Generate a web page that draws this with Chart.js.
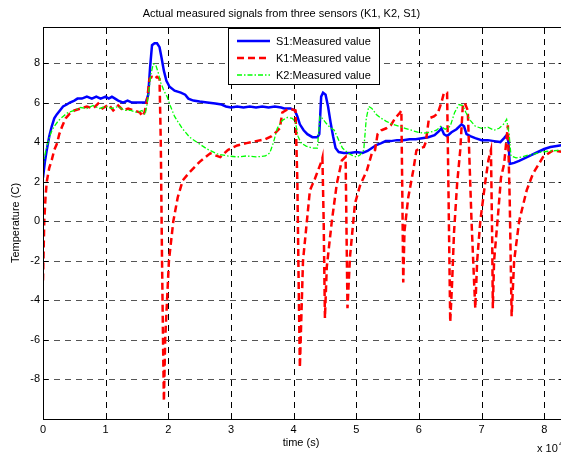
<!DOCTYPE html>
<html>
<head>
<meta charset="utf-8">
<script src="https://cdn.jsdelivr.net/npm/chart.js@4/dist/chart.umd.min.js"></script>
<style>
html,body{margin:0;padding:0;overflow:hidden;background:#fff;width:561px;height:454px;}
#wrap{position:absolute;left:0;top:0;width:580px;height:454px;}
</style>
</head>
<body>
<div id="wrap"><canvas id="c" width="580" height="454"></canvas></div>
<script>
// ---- data (time in units of 10^4 s, temperature in C) ----
const chartTitle = 'Actual measured signals from three sensors (K1, K2, S1)';
const xTitle = 'time (s)';
const yTitle = 'Temperature (C)';
const seriesNames = ['S1:Measured value', 'K1:Measured value', 'K2:Measured value'];
const xTicks = [0, 1, 2, 3, 4, 5, 6, 7, 8];
const yTicks = [-8, -6, -4, -2, 0, 2, 4, 6, 8];

const s1Time = [0.00,0.03,0.06,0.10,0.14,0.18,0.22,0.27,0.32,0.38,0.43,0.50,0.55,0.62,0.70,0.78,0.85,0.92,1.00,1.05,1.10,1.15,1.20,1.28,1.35,1.42,1.50,1.58,1.64,1.68,1.71,1.74,1.78,1.82,1.86,1.89,1.93,1.97,2.02,2.10,2.20,2.27,2.32,2.40,2.50,2.62,2.75,2.85,2.92,3.00,3.10,3.20,3.30,3.40,3.50,3.60,3.70,3.80,3.85,3.95,4.02,4.06,4.10,4.16,4.22,4.30,4.38,4.41,4.44,4.47,4.51,4.55,4.59,4.63,4.67,4.72,4.80,4.90,5.00,5.10,5.18,5.25,5.32,5.40,5.47,5.55,5.65,5.75,5.85,5.95,6.05,6.15,6.25,6.32,6.36,6.40,6.45,6.52,6.60,6.68,6.72,6.76,6.82,6.90,7.00,7.10,7.20,7.30,7.36,7.40,7.43,7.45,7.52,7.60,7.70,7.80,7.90,8.00,8.10,8.20,8.30];
const s1Temp = [2.2,3.0,3.6,4.3,4.8,5.2,5.4,5.6,5.8,5.9,6.0,6.1,6.2,6.2,6.3,6.2,6.3,6.2,6.3,6.2,6.3,6.2,6.1,6.0,6.1,6.0,6.0,6.0,6.0,6.4,7.8,8.9,9.0,9.0,8.8,8.3,7.6,7.1,6.8,6.6,6.5,6.4,6.2,6.1,6.05,6.0,5.95,5.9,5.8,5.75,5.8,5.75,5.8,5.75,5.8,5.75,5.8,5.75,5.7,5.7,5.6,5.3,4.9,4.6,4.4,4.25,4.25,4.4,6.3,6.5,6.4,5.8,5.0,4.3,3.7,3.5,3.45,3.45,3.5,3.45,3.55,3.7,3.85,3.95,4.05,4.05,4.1,4.1,4.15,4.15,4.2,4.25,4.35,4.55,4.7,4.4,4.3,4.5,4.65,4.9,4.8,4.4,4.3,4.2,4.1,4.1,4.05,4.0,4.2,4.35,4.0,2.9,2.95,3.05,3.2,3.35,3.5,3.65,3.75,3.8,3.85];

const k1Time = [0.00,0.01,0.02,0.04,0.06,0.10,0.14,0.18,0.22,0.26,0.30,0.36,0.43,0.50,0.60,0.70,0.80,0.88,0.95,1.05,1.12,1.20,1.28,1.36,1.45,1.55,1.58,1.62,1.66,1.70,1.74,1.78,1.82,1.86,1.88,1.90,1.92,1.93,1.95,1.98,2.01,2.08,2.15,2.23,2.34,2.50,2.67,2.83,2.95,3.10,3.25,3.40,3.55,3.65,3.72,3.78,3.82,3.90,3.98,4.03,4.06,4.08,4.10,4.15,4.26,4.34,4.45,4.46,4.48,4.50,4.53,4.61,4.69,4.77,4.83,4.86,4.90,4.98,5.06,5.17,5.25,5.30,5.34,5.40,5.48,5.55,5.62,5.70,5.72,5.74,5.75,5.77,5.83,5.91,5.96,6.02,6.08,6.11,6.16,6.24,6.30,6.36,6.40,6.45,6.47,6.50,6.53,6.56,6.61,6.66,6.70,6.73,6.78,6.84,6.88,6.90,6.93,6.98,7.06,7.11,7.15,7.17,7.18,7.20,7.26,7.31,7.36,7.42,7.45,7.48,7.52,7.60,7.72,7.82,7.98,8.14,8.30];
const k1Temp = [-3.0,-1.5,0.0,1.2,2.0,2.7,3.1,3.6,3.9,4.4,4.75,5.2,5.45,5.6,5.7,5.8,5.7,5.95,5.7,5.9,5.6,5.85,5.6,5.7,5.6,5.5,5.3,5.5,6.1,7.2,7.3,7.2,7.3,7.2,4.0,-2.0,-7.0,-9.1,-6.0,-4.0,-2.0,0.0,1.2,2.06,2.48,3.0,3.43,3.24,3.6,3.83,3.95,4.05,4.15,4.3,4.5,4.7,5.5,5.65,5.65,5.6,2.0,-3.0,-7.4,-2.0,1.55,2.15,3.07,3.2,0.0,-4.9,-2.3,0.0,1.9,3.07,3.25,-4.4,-1.8,0.9,1.8,2.57,3.45,3.6,4.4,4.6,4.7,4.85,5.2,5.5,5.6,0.0,-3.1,-0.5,1.2,2.57,3.58,3.7,3.75,4.0,5.2,5.3,5.45,6.0,6.5,6.5,2.0,-5.1,-3.1,-0.6,1.9,3.6,5.8,6.0,5.6,0.0,-3.0,-4.4,-2.0,0.0,2.0,3.1,3.6,-1.0,-4.4,-2.0,0.2,2.2,2.9,4.85,1.0,-4.8,-2.0,0.0,1.56,2.4,3.24,3.58,3.5];

const k2Time = [0.00,0.04,0.08,0.13,0.18,0.25,0.32,0.40,0.50,0.60,0.70,0.80,0.90,1.00,1.10,1.20,1.30,1.40,1.50,1.58,1.63,1.66,1.69,1.72,1.76,1.80,1.84,1.88,1.93,1.98,2.03,2.10,2.22,2.34,2.50,2.62,2.78,2.95,3.10,3.25,3.40,3.55,3.62,3.68,3.74,3.82,3.90,3.98,4.03,4.07,4.12,4.20,4.30,4.38,4.42,4.46,4.52,4.58,4.65,4.72,4.78,4.85,4.92,5.00,5.06,5.12,5.16,5.20,5.25,5.32,5.40,5.48,5.58,5.68,5.78,5.88,5.98,6.08,6.18,6.28,6.35,6.42,6.50,6.57,6.64,6.70,6.75,6.82,6.90,7.00,7.10,7.20,7.28,7.35,7.40,7.44,7.47,7.55,7.65,7.75,7.85,7.95,8.10,8.30];
const k2Temp = [2.8,3.5,4.0,4.5,4.8,5.1,5.3,5.5,5.6,5.75,5.7,5.85,5.7,5.8,5.7,5.8,5.6,5.6,5.5,5.6,5.4,5.9,6.6,7.4,7.95,7.9,7.5,7.0,6.6,6.3,5.85,5.3,4.7,4.25,3.9,3.65,3.4,3.3,3.25,3.3,3.25,3.3,3.45,4.0,4.7,5.1,5.25,5.2,5.0,4.3,3.95,3.8,3.7,3.7,5.3,5.2,4.95,4.75,4.6,4.1,3.7,3.5,3.35,3.25,3.35,3.6,5.2,5.8,5.7,5.4,5.2,5.05,4.9,4.8,4.7,4.6,4.5,4.45,4.5,4.6,4.8,4.65,4.8,5.5,5.9,5.85,5.5,5.1,4.8,4.7,4.75,4.6,4.7,4.9,5.15,4.4,3.3,3.2,3.25,3.35,3.4,3.5,3.55,3.6];

const seriesColors = ['#0000ff', '#ff0000', '#00ff00'];
const FONT = "'Liberation Sans', Arial, sans-serif";

function pts(xs, ys){ return xs.map((x,i)=>({x:x, y:ys[i]})); }

const styles = [
  {w:2.5, dash:[]},
  {w:2.5, dash:[7,4]},
  {w:1.3, dash:[5,2,1.5,2]}
];

const decor = {
  id:'decor',
  beforeDatasetsDraw(chart){
    const {ctx, chartArea:a, scales:{x,y}} = chart;
    ctx.save();
    ctx.lineWidth = 1;
    ctx.setLineDash([6,5]);
    ctx.strokeStyle = '#000';
    xTicks.forEach(v=>{
      const px = Math.round(x.getPixelForValue(v)) + 0.5;
      ctx.beginPath(); ctx.moveTo(px, a.bottom); ctx.lineTo(px, a.top); ctx.stroke();
    });
    ctx.strokeStyle = '#555';
    yTicks.forEach(v=>{
      const py = Math.round(y.getPixelForValue(v)) + 0.5;
      ctx.beginPath(); ctx.moveTo(a.left, py); ctx.lineTo(a.right, py); ctx.stroke();
    });
    ctx.restore();
  },
  afterDatasetsDraw(chart){
    const {ctx, chartArea:a, scales:{x,y}} = chart;
    ctx.save();
    ctx.setLineDash([]);
    ctx.strokeStyle = '#000';
    ctx.lineWidth = 1;
    const L = Math.round(a.left)+0.5, R = Math.round(a.right)+0.5, T = Math.round(a.top)+0.5, B = Math.round(a.bottom)+0.5;
    ctx.strokeRect(L, T, R-L, B-T);
    xTicks.forEach(v=>{
      const px = Math.round(x.getPixelForValue(v)) + 0.5;
      ctx.beginPath(); ctx.moveTo(px, B); ctx.lineTo(px, B-5); ctx.moveTo(px, T); ctx.lineTo(px, T+5); ctx.stroke();
    });
    yTicks.forEach(v=>{
      const py = Math.round(y.getPixelForValue(v)) + 0.5;
      ctx.beginPath(); ctx.moveTo(L, py); ctx.lineTo(L+5, py); ctx.moveTo(R, py); ctx.lineTo(R-5, py); ctx.stroke();
    });
    ctx.fillStyle = '#000';
    ctx.font = '11px ' + FONT;
    ctx.textAlign = 'center'; ctx.textBaseline = 'middle';
    ctx.fillText(chartTitle, 281.5, 14);
    ctx.fillText(xTitle, 301, 443);
    ctx.save();
    ctx.translate(16, 223); ctx.rotate(-Math.PI/2);
    ctx.fillText(yTitle, 0, 0);
    ctx.restore();
    ctx.textAlign = 'left'; ctx.textBaseline = 'alphabetic';
    ctx.fillText('x 10', 537, 452);
    ctx.font = '8px ' + FONT;
    ctx.fillText('4', 559, 446);
    ctx.fillStyle = '#fff';
    ctx.fillRect(228.5, 28.5, 151, 56);
    ctx.strokeStyle = '#000'; ctx.lineWidth = 1;
    ctx.strokeRect(228.5, 28.5, 151, 56);
    ctx.font = '11px ' + FONT;
    ctx.textBaseline = 'middle';
    seriesNames.forEach((n,i)=>{
      const yy = 41 + i*17;
      ctx.strokeStyle = seriesColors[i];
      ctx.lineWidth = styles[i].w;
      ctx.setLineDash(styles[i].dash);
      ctx.beginPath(); ctx.moveTo(237, yy); ctx.lineTo(270, yy); ctx.stroke();
      ctx.fillStyle = '#000';
      ctx.fillText(n, 276, yy+0.5);
    });
    ctx.restore();
  }
};

const ds = [
  {label:seriesNames[0], data:pts(s1Time,s1Temp), order:2},
  {label:seriesNames[1], data:pts(k1Time,k1Temp), order:1},
  {label:seriesNames[2], data:pts(k2Time,k2Temp), order:0}
].map((d,i)=>Object.assign(d,{
  borderColor:seriesColors[i], backgroundColor:seriesColors[i],
  borderWidth:styles[i].w, borderDash:styles[i].dash,
  pointRadius:0, tension:0, fill:false, showLine:true
}));

new Chart(document.getElementById('c'), {
  type:'line',
  data:{datasets:ds},
  options:{
    responsive:false, animation:false, devicePixelRatio:1,
    layout:{padding:{top:27, right:17, left:0, bottom:0}},
    plugins:{legend:{display:false}, tooltip:{enabled:false}, title:{display:false}},
    scales:{
      x:{type:'linear', min:0, max:8.3,
         afterBuildTicks:s=>{s.ticks = xTicks.map(v=>({value:v}));},
         afterFit:s=>{s.height = 35;},
         grid:{display:false, drawTicks:false}, border:{display:false},
         ticks:{color:'#000', font:{family:FONT, size:11}, padding:4, maxRotation:0, autoSkip:false}},
      y:{type:'linear', min:-10, max:9.82,
         afterBuildTicks:s=>{s.ticks = yTicks.map(v=>({value:v}));},
         afterFit:s=>{s.width = 43;},
         grid:{display:false, drawTicks:false}, border:{display:false},
         ticks:{color:'#000', font:{family:FONT, size:11}, padding:3, autoSkip:false}}
    }
  },
  plugins:[decor]
});
</script>
</body>
</html>
